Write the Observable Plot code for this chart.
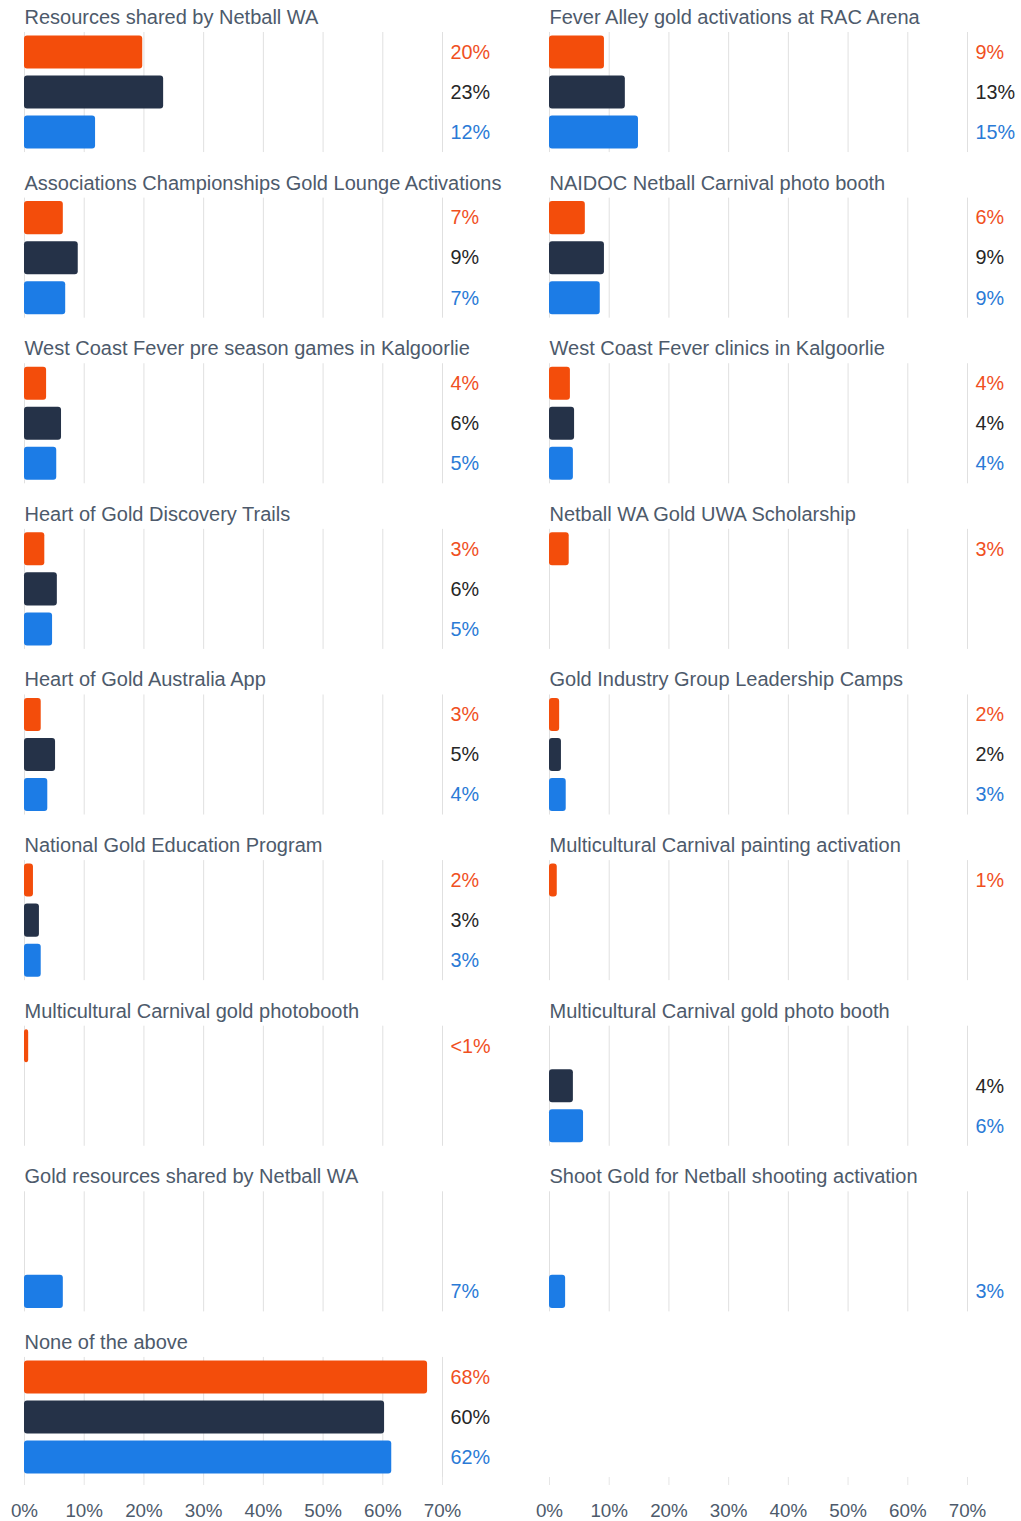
<!DOCTYPE html>
<html>
<head>
<meta charset="utf-8">
<script src="https://cdn.jsdelivr.net/npm/d3@7"></script>
<script src="https://cdn.jsdelivr.net/npm/@observablehq/plot@0.6"></script>
<style>
  html, body { margin: 0; padding: 0; background: #fff; }
  #chart { width: 1021px; height: 1521px; }
</style>
</head>
<body>
<div id="chart"></div>
<script>
// ---- Data ----
const leftItems = [
  "Resources shared by Netball WA",
  "Associations Championships Gold Lounge Activations",
  "West Coast Fever pre season games in Kalgoorlie",
  "Heart of Gold Discovery Trails",
  "Heart of Gold Australia App",
  "National Gold Education Program",
  "Multicultural Carnival gold photobooth",
  "Gold resources shared by Netball WA",
  "None of the above"
];
const rightItems = [
  "Fever Alley gold activations at RAC Arena",
  "NAIDOC Netball Carnival photo booth",
  "West Coast Fever clinics in Kalgoorlie",
  "Netball WA Gold UWA Scholarship",
  "Gold Industry Group Leadership Camps",
  "Multicultural Carnival painting activation",
  "Multicultural Carnival gold photo booth",
  "Shoot Gold for Netball shooting activation"
];
const seriesKeys = ["Series 1", "Series 2", "Series 3"];

// values (percent) in order: leftItems then rightItems; null = no bar
const series1Values = [19.8, 6.5, 3.7, 3.4, 2.8, 1.5, 0.7, null, 67.5,
                       9.2, 6.0, 3.5, 3.3, 1.7, 1.3, null, null];
const series2Values = [23.3, 9.0, 6.2, 5.5, 5.2, 2.5, null, null, 60.3,
                       12.7, 9.2, 4.2, null, 2.0, null, 4.0, null];
const series3Values = [11.9, 6.9, 5.4, 4.7, 3.9, 2.8, null, 6.5, 61.5,
                       14.9, 8.5, 4.0, null, 2.8, null, 5.7, 2.7];

const series1Labels = ["20%", "7%", "4%", "3%", "3%", "2%", "<1%", null, "68%",
                       "9%", "6%", "4%", "3%", "2%", "1%", null, null];
const series2Labels = ["23%", "9%", "6%", "6%", "5%", "3%", null, null, "60%",
                       "13%", "9%", "4%", null, "2%", null, "4%", null];
const series3Labels = ["12%", "7%", "5%", "5%", "4%", "3%", null, "7%", "62%",
                       "15%", "9%", "4%", null, "3%", null, "6%", "3%"];

const axisTicks = [0, 10, 20, 30, 40, 50, 60, 70];

// ---- Styles ----
const barColors = {"Series 1": "#f34d0b", "Series 2": "#253248", "Series 3": "#1c7ce6"};
const labelColors = {"Series 1": "#f0501e", "Series 2": "#262626", "Series 3": "#2a7ad6"};
const titleColor = "#4d5a6b";
const fontFamily = "'Liberation Sans', Arial, Helvetica, sans-serif";

// ---- Build tables ----
const itemsAll = [...leftItems, ...rightItems];
const colOf = i => i < leftItems.length ? "L" : "R";
const rowOf = i => i < leftItems.length ? i : i - leftItems.length;

const valuesBySeries = [series1Values, series2Values, series3Values];
const labelsBySeries = [series1Labels, series2Labels, series3Labels];

const bars = [];
itemsAll.forEach((item, i) => {
  seriesKeys.forEach((s, k) => {
    const v = valuesBySeries[k][i];
    if (v != null) bars.push({item, col: colOf(i), row: rowOf(i), series: s, value: v, label: labelsBySeries[k][i]});
  });
});
const titles = itemsAll.map((item, i) => ({item, col: colOf(i), row: rowOf(i)}));

const chart = Plot.plot({
  width: 1021,
  height: 1521,
  marginTop: 32,
  marginBottom: 44,
  marginLeft: 24,
  marginRight: 54,
  style: {fontFamily, background: "#fff"},
  fx: {domain: ["L", "R"], paddingInner: 107 / 525, paddingOuter: 0, round: false, axis: null, label: null},
  fy: {domain: d3.range(9), paddingInner: 0.275, paddingOuter: 0, round: false, axis: null, label: null},
  x: {domain: [0, 70], axis: null},
  y: {domain: seriesKeys, paddingInner: 0.175, paddingOuter: 0.0875, round: false, axis: null},
  color: {type: "identity"},
  marks: [
    Plot.gridX({ticks: axisTicks, stroke: "#e0e0e0", strokeOpacity: 1, strokeWidth: 1}),
    Plot.barX(bars, {
      fx: "col", fy: "row", y: "series", x: "value",
      fill: d => barColors[d.series], rx: 3
    }),
    Plot.text(bars, {
      fx: "col", fy: "row", y: "series", text: "label",
      frameAnchor: "right", textAnchor: "start", dx: 8,
      fill: d => labelColors[d.series], fontSize: 19.8
    }),
    Plot.text(titles, {
      fx: "col", fy: "row", text: "item",
      frameAnchor: "top-left", lineAnchor: "middle", dy: -15,
      fill: titleColor, fontSize: 20
    }),
    Plot.axisX({
      ticks: axisTicks, tickFormat: d => d + "%", facetAnchor: "bottom",
      tickSize: 8, tickPadding: 18, stroke: "#e6e6e6", fill: titleColor,
      fontSize: 18.8, label: null
    })
  ]
});
document.getElementById("chart").appendChild(chart);
</script>
</body>
</html>
